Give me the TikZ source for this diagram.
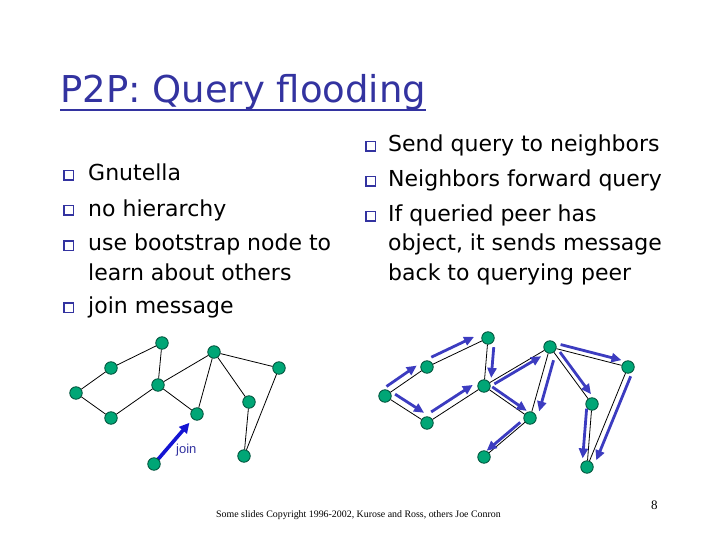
\documentclass[tikz,border=0pt]{standalone}
\usepackage{fontspec}
\setmainfont{DejaVu Sans}
\newfontfamily\footfont{Liberation Serif}
\newfontfamily\joinfont{Liberation Sans}
\usetikzlibrary{calc,arrows.meta}
\definecolor{titleblue}{RGB}{51,51,160}
\definecolor{peer}{RGB}{0,166,118}
\definecolor{peerline}{RGB}{0,80,58}
\definecolor{qblue}{RGB}{60,60,192}
\definecolor{jblue}{RGB}{20,20,210}
\pgfdeclarelayer{bg}
\pgfsetlayers{bg,main}
% #1 from, #2 to, #3 angle (90 left / -90 right), #4 offset, #5 start frac, #6 end frac
\newcommand\flood[6]{\draw[qarrow] ($(#1)!#5!(#2)!#4!#3:(#2)$) -- ($(#1)!#6!(#2)!#4!#3:(#2)$);}
\tikzset{
  peernode/.style={circle, fill=peer, draw=peerline, line width=0.8pt, minimum size=12.5pt, inner sep=0pt},
  link/.style={draw=black, line width=0.8pt},
  qarrow/.style={draw=qblue, line width=2.8pt, -{Triangle[length=10pt,width=9pt]}},
  joinarrow/.style={draw=jblue, line width=3.6pt, -{Triangle[length=10pt,width=10pt]}},
  bul/.style={draw=titleblue, line width=1.5pt, minimum width=9.5pt, minimum height=9.5pt, inner sep=0pt, anchor=south west},
  txt/.style={anchor=base west, inner sep=0pt, font=\fontsize{22}{26}\selectfont, text=black}
}
\begin{document}
\begin{tikzpicture}[x=1pt,y=-1pt]
\useasboundingbox (0,0) rectangle (720,540);
% title
\node[anchor=base west, inner sep=0pt, text=titleblue, font=\fontsize{37}{40}\selectfont] (title) at (60,103) {P2P: Query flooding};
\draw[titleblue, line width=2.4pt] ([yshift=-7pt]title.base west) -- ([yshift=-7pt]title.base east);
% left bullets
\node[bul] (lb1) at (63,181) {};
\node[txt] (lt1) at (88,181) {Gnutella};
\node[bul] (lb2) at (63,216) {};
\node[txt] (lt2) at (88,216) {no hierarchy};
\node[bul] (lb3) at (63,251) {};
\node[txt] (lt3) at (88,251) {use bootstrap node to};
\node[txt] (lt3b) at (88,280) {learn about others};
\node[bul] (lb4) at (63,313) {};
\node[txt] (lt4) at (88,313) {join message};
% right bullets
\node[bul] (rb1) at (365,152) {};
\node[txt] (rt1) at (388,152) {Send query to neighbors};
\node[bul] (rb2) at (365,187) {};
\node[txt] (rt2) at (388,187) {Neighbors forward query};
\node[bul] (rb3) at (365,222) {};
\node[txt] (rt3) at (388,222) {If queried peer has};
\node[txt] (rt3b) at (388,251) {object, it sends message};
\node[txt] (rt3c) at (388,280) {back to querying peer};
% left graph
\node[peernode] (A) at (162,343) {};
\node[peernode] (B) at (111,368) {};
\node[peernode] (C) at (76,393) {};
\node[peernode] (D) at (111,418) {};
\node[peernode] (E) at (158,385) {};
\node[peernode] (F) at (214,352) {};
\node[peernode] (G) at (197,414) {};
\node[peernode] (H) at (249,402) {};
\node[peernode] (I) at (279,368) {};
\node[peernode] (J) at (244,456) {};
\node[peernode] (K) at (154,464) {};
\draw[link] (A) -- (B) (B) -- (C) (C) -- (D) (D) -- (E) (A) -- (E) (E) -- (F)
  (E) -- (G) (F) -- (G) (F) -- (H) (F) -- (I) (H) -- (J) (I) -- (J);
\begin{pgfonlayer}{bg}
\draw[joinarrow, shorten >=5pt] (K.center) -- (G);
\end{pgfonlayer}
\node[anchor=base west, inner sep=0pt, text=titleblue, font=\joinfont\fontsize{13}{15}\selectfont] (jointxt) at (176,453) {join};
% right graph
\node[peernode] (a) at (488,338) {};
\node[peernode] (b) at (427,367) {};
\node[peernode] (c) at (385,396) {};
\node[peernode] (d) at (427,423) {};
\node[peernode] (e) at (484,386) {};
\node[peernode] (f) at (550,347) {};
\node[peernode] (g) at (530,418) {};
\node[peernode] (h) at (592,404) {};
\node[peernode] (i) at (628,367) {};
\node[peernode] (j) at (587,467) {};
\node[peernode] (k) at (484,457) {};
\draw[link] (a) -- (b) (b) -- (c) (c) -- (d) (d) -- (e) (a) -- (e) (e) -- (f)
  (e) -- (g) (f) -- (g) (f) -- (h) (f) -- (i) (h) -- (j) (i) -- (j) (g) -- (k);
\flood{c}{b}{90}{7pt}{0.13}{0.85}
\flood{b}{a}{90}{7pt}{0.12}{0.82}
\flood{c}{d}{90}{7pt}{0.15}{0.84}
\flood{d}{e}{90}{7pt}{0.14}{0.87}
\flood{a}{e}{90}{6.5pt}{0.18}{0.82}
\flood{e}{f}{-90}{3.5pt}{0.13}{0.84}
\flood{e}{g}{90}{4pt}{0.13}{0.88}
\flood{f}{g}{90}{7pt}{0.16}{0.88}
\flood{f}{h}{90}{5pt}{0.14}{0.88}
\flood{f}{i}{90}{5pt}{0.12}{0.9}
\flood{h}{j}{-90}{5pt}{0.08}{0.87}
\flood{i}{j}{90}{6pt}{0.07}{0.91}
\flood{g}{k}{-90}{3pt}{0.17}{0.9}
% footer
\node[anchor=base west, inner sep=0pt, font=\footfont\fontsize{9.9}{11}\selectfont] (foot) at (216,517) {Some slides Copyright 1996-2002, Kurose and Ross, others Joe Conron};
\node[anchor=base west, inner sep=0pt, font=\footfont\fontsize{13}{15}\selectfont] (pnum) at (651,509) {8};
\end{tikzpicture}
\end{document}
